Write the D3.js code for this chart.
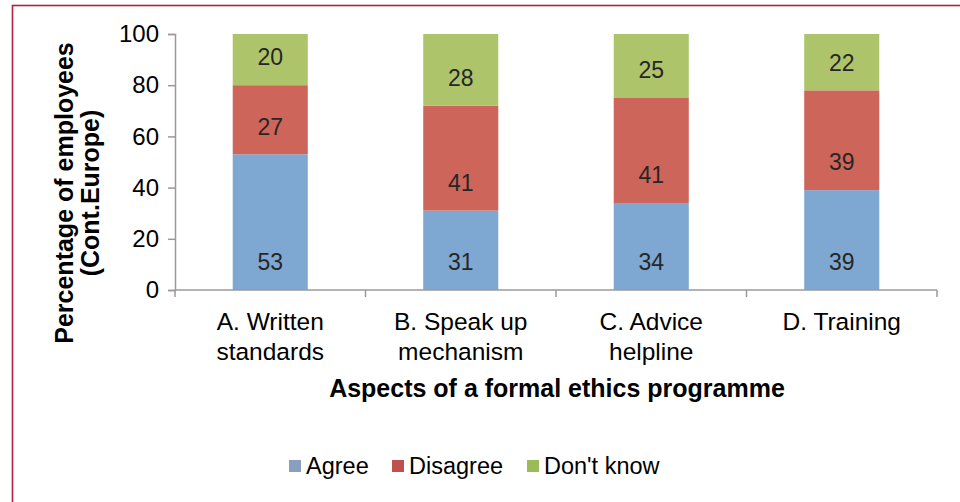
<!DOCTYPE html>
<html>
<head>
<meta charset="utf-8">
<script src="https://cdn.jsdelivr.net/npm/d3@7"></script>
<style>
  html, body { margin: 0; padding: 0; background: #fff; }
  svg { display: block; font-family: "Liberation Sans", Arial, sans-serif; }
</style>
</head>
<body>
<svg id="chart" width="960" height="502"></svg>
<script>
// Survey results: share of employees (Continental Europe) per aspect
const categories = [["A. Written", "standards"], ["B. Speak up", "mechanism"], ["C. Advice", "helpline"], ["D. Training"]];
const seriesNames = ["Agree", "Disagree", "Don't know"];
const agree = [53, 31, 34, 39];
const disagree = [27, 41, 41, 39];
const dontKnow = [20, 28, 25, 22];
const yTicks = [0, 20, 40, 60, 80, 100];

const barColors = ["#7ea7d2", "#cd655a", "#aec46a"];
const legendColors = ["#8a9fc0", "#c0504d", "#9bbb59"];

const svg = d3.select("#chart");
const W = 960, H = 502;
const plotLeft = 175, plotRight = 937, plotTop = 34, plotBottom = 290;

// outer frame (only top and left edges are inside the view)
svg.append("rect")
  .attr("x", 12.5).attr("y", 5.5)
  .attr("width", W + 20).attr("height", H + 20)
  .attr("fill", "none").attr("stroke", "#b3213f").attr("stroke-width", 1.6);

const keys = categories.map((c, i) => "c" + i);
const rows = keys.map((k, i) => ({ key: k, Agree: agree[i], Disagree: disagree[i], "Don't know": dontKnow[i] }));
const stacked = d3.stack().keys(seriesNames)(rows);

const x = d3.scaleBand().domain(keys).range([plotLeft, plotRight])
  .paddingInner(0.606).paddingOuter(0.303);
const y = d3.scaleLinear().domain([0, 100]).range([plotBottom, plotTop]);

// bars
const layers = svg.append("g").selectAll("g").data(stacked).join("g")
  .attr("fill", (d, i) => barColors[i]);
layers.selectAll("rect").data(d => d).join("rect")
  .attr("x", d => x(d.data.key))
  .attr("width", x.bandwidth())
  .attr("y", d => y(d[1]))
  .attr("height", d => y(d[0]) - y(d[1]));

// value labels, set just above each segment's base
const labels = svg.append("g").attr("font-size", 23).attr("fill", "#262626").attr("text-anchor", "middle");
stacked.forEach((layer) => {
  layer.forEach((d) => {
    labels.append("text")
      .attr("x", x(d.data.key) + x.bandwidth() / 2)
      .attr("y", y(d[0]) - 28)
      .attr("dy", "0.36em")
      .text(d[1] - d[0]);
  });
});

// y axis
const yAxis = d3.axisLeft(y).tickValues(yTicks).tickSize(7).tickPadding(9);
const gy = svg.append("g").attr("transform", `translate(${plotLeft},0)`).call(yAxis);
gy.select(".domain").attr("stroke", "#9a9a9a").attr("stroke-width", 1.5);
gy.selectAll(".tick line").attr("stroke", "#9a9a9a").attr("stroke-width", 1.5);
gy.selectAll(".tick text").attr("font-size", 24).attr("fill", "#000")
  .attr("font-family", "Liberation Sans, Arial, sans-serif");

// x axis with ticks at category boundaries
const gx = svg.append("g").attr("transform", `translate(0,${plotBottom})`);
gx.append("line").attr("x1", plotLeft).attr("x2", plotRight).attr("y1", 0).attr("y2", 0)
  .attr("stroke", "#9a9a9a").attr("stroke-width", 1.5);
const step = x.step();
d3.range(categories.length + 1).forEach(i => {
  gx.append("line").attr("x1", plotLeft + i * step).attr("x2", plotLeft + i * step)
    .attr("y1", 0).attr("y2", 7).attr("stroke", "#9a9a9a").attr("stroke-width", 1.5);
});
categories.forEach((lines, i) => {
  const cx = x(keys[i]) + x.bandwidth() / 2;
  const t = gx.append("text")
    .attr("x", cx).attr("y", 40)
    .attr("text-anchor", "middle").attr("font-size", 24.5).attr("fill", "#000");
  lines.forEach((ln, j) => t.append("tspan")
    .attr("x", cx).attr("dy", j === 0 ? 0 : 30).text(ln));
});

// axis titles
svg.append("text")
  .attr("x", 557).attr("y", 397)
  .attr("text-anchor", "middle").attr("font-size", 25).attr("font-weight", "bold")
  .text("Aspects of a formal ethics programme");

const yt = svg.append("text")
  .attr("transform", `translate(73,193) rotate(-90)`)
  .attr("text-anchor", "middle").attr("font-size", 25).attr("font-weight", "bold");
yt.append("tspan").attr("x", 0).attr("dy", 0).text("Percentage of employees");
yt.append("tspan").attr("x", 0).attr("dy", 26).text("(Cont.Europe)");

// legend
const legendX = [289, 392, 527];
const lg = svg.append("g");
seriesNames.forEach((name, i) => {
  lg.append("rect").attr("x", legendX[i]).attr("y", 460)
    .attr("width", 12).attr("height", 12).attr("fill", legendColors[i]);
  lg.append("text").attr("x", legendX[i] + 17).attr("y", 474)
    .attr("font-size", 23.5).attr("fill", "#000").text(name);
});
</script>
</body>
</html>
